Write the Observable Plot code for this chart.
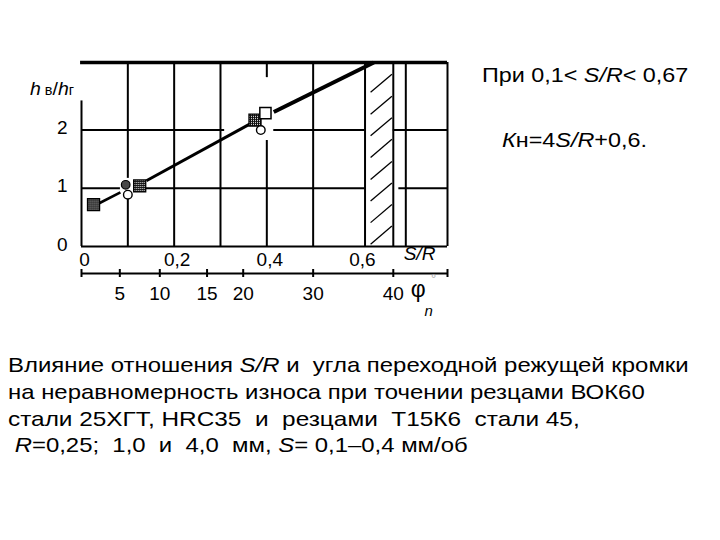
<!DOCTYPE html>
<html>
<head>
<meta charset="utf-8">
<script src="https://cdn.jsdelivr.net/npm/d3@7"></script>
<script src="https://cdn.jsdelivr.net/npm/@observablehq/plot@0.6"></script>
<style>
  html, body { margin: 0; padding: 0; background: #fff; }
  #wrap { position: relative; width: 720px; height: 540px; overflow: hidden; background: #fff; }
  #chart { position: absolute; left: 0; top: 0; }
  .t { position: absolute; white-space: pre; line-height: 1; color: #000;
       font-family: "Liberation Sans", Arial, sans-serif; transform-origin: 0 0; }
</style>
</head>
<body>
<div id="wrap"><div id="chart"></div></div>
<script>
// ---------- data ----------
const xDomain = [0, 0.79];          // S/R
const yDomain = [0, 3.16];          // hв/hг

const yTicks = [0, 1, 2];
const srTicks = [0, 0.2, 0.4, 0.6];
const srTickLabels = ["0", "0,2", "0,4", "0,6"];
const phiTickPos = [0, 0.0827, 0.169, 0.271, 0.349, 0.5, 0.673, 0.79];
const phiTickLabels = ["", "5", "10", "15", "20", "30", "40", ""];

// grid segments (drawn with gaps as in the original)
const vGridX  = [0.1, 0.1, 0.2, 0.3, 0.4, 0.4, 0.5, 0.7];
const vGridY1 = [0, 1.17, 0, 0, 0, 2.9, 0, 0];
const vGridY2 = [0.81, 3.16, 3.16, 3.16, 1.82, 3.16, 3.16, 3.16];
const hGridY  = [1, 1, 1, 2, 2, 2];
const hGridX1 = [0, 0.138, 0.685, 0, 0.415, 0.673];
const hGridX2 = [0.084, 0.612, 0.79, 0.309, 0.612, 0.79];

// forbidden zone (hatched band)
const zoneX = [0.612, 0.673];
const hatchY = [0.04, 0.41, 0.78, 1.15, 1.53, 1.90, 2.27, 2.65];

// trend line Kн = 4S/R + 0.6, drawn in three pieces
const trendX1 = [0.035, 0.140, 0.415];
const trendY1 = [0.73, 1.13, 2.31];
const trendX2 = [0.084, 0.365, 0.631];
const trendY2 = [0.93, 2.11, 3.16];

// experimental points
const filledSqX = [0.026, 0.1256, 0.3745];
const filledSqY = [0.72, 1.04, 2.17];
const openSqX = [0.397];
const openSqY = [2.29];
const openCircX = [0.100, 0.387];
const openCircY = [0.89, 2.00];
const dotCircX = [0.0954];
const dotCircY = [1.06];

// ---------- build tables ----------
const zip = (xs, ys) => xs.map((x, i) => ({x, y: ys[i]}));
const vGrid = vGridX.map((x, i) => ({x, y1: vGridY1[i], y2: vGridY2[i]}));
const hGrid = hGridY.map((y, i) => ({y, x1: hGridX1[i], x2: hGridX2[i]}));
const trend = trendX1.map((x, i) => ({x1: x, y1: trendY1[i], x2: trendX2[i], y2: trendY2[i]}));
const hatch = hatchY.map(y => ({y}));

const defsMark = () => {
  const ns = "http://www.w3.org/2000/svg";
  const d = document.createElementNS(ns, "defs");
  d.innerHTML = '<pattern id="chk" width="2" height="2" patternUnits="userSpaceOnUse">' +
    '<rect width="2" height="2" fill="#111"/><rect x="0" y="0" width="1" height="1" fill="#eee"/></pattern>';
  return d;
};

const font = "'Liberation Sans', Arial, sans-serif";
const plot = Plot.plot({
  width: 720, height: 320,
  marginLeft: 81, marginRight: 273, marginTop: 62, marginBottom: 74,
  x: {domain: xDomain},
  y: {domain: yDomain},
  style: {fontFamily: font, fontSize: "19px", color: "black", background: "white", overflow: "visible"},
  marks: [
    defsMark,
    Plot.ruleX(vGrid, {x: "x", y1: "y1", y2: "y2", stroke: "black", strokeWidth: 2}),
    Plot.ruleY(hGrid, {y: "y", x1: "x1", x2: "x2", stroke: "black", strokeWidth: 2}),
    // frame
    Plot.ruleY([yDomain[0]], {x1: xDomain[0], x2: xDomain[1], stroke: "black", strokeWidth: 2}),
    Plot.ruleY([yDomain[1]], {x1: xDomain[0] - 0.002, x2: xDomain[1], stroke: "black", strokeWidth: 3.5}),
    Plot.ruleX([xDomain[0]], {y1: 0, y2: 2.5, stroke: "black", strokeWidth: 2}),
    Plot.ruleX([xDomain[1]], {y1: yDomain[0], y2: yDomain[1], stroke: "black", strokeWidth: 2}),
    // hatched zone
    Plot.ruleX(zoneX, {y1: yDomain[0], y2: yDomain[1], stroke: "black", strokeWidth: 2}),
    Plot.link(hatch, {x1: zoneX[0] + 0.012, x2: zoneX[1] - 0.003, y1: "y", y2: d => d.y + 0.31,
                      stroke: "black", strokeWidth: 1.3}),
    // trend line
    Plot.link(trend, {x1: "x1", y1: "y1", x2: "x2", y2: "y2", stroke: "black",
                      strokeWidth: (d, i) => [2.6, 3, 4][i]}),
    // markers
    Plot.dot(zip(filledSqX, filledSqY), {x: "x", y: "y", symbol: "square", r: 6.8,
             fill: "url(#chk)", stroke: "black", strokeWidth: 1.3}),
    Plot.dot(zip(openSqX, openSqY), {x: "x", y: "y", symbol: "square", r: 6.3,
             fill: "white", stroke: "black", strokeWidth: 1.5}),
    Plot.dot(zip(openCircX, openCircY), {x: "x", y: "y", r: 4.3,
             fill: "white", stroke: "black", strokeWidth: 1.4}),
    Plot.dot(zip(dotCircX, dotCircY), {x: "x", y: "y", r: 4.3,
             fill: "url(#chk)", stroke: "black", strokeWidth: 1.2}),
    // y axis labels
    Plot.axisY(yTicks, {anchor: "left", tickSize: 0, tickPadding: 14, dy: -2, label: null,
                        fontSize: 19, tickFormat: d => String(d)}),
    // S/R labels
    Plot.axisX(srTicks, {anchor: "bottom", tickSize: 0, tickPadding: 6, dx: 3, label: null,
                         fontSize: 19, tickFormat: d => srTickLabels[srTicks.indexOf(d)]}),
    Plot.text(["S/R"], {x: 0.7296, frameAnchor: "bottom", dy: 13, fontStyle: "italic", fontSize: 19}),
    // phi axis
    Plot.ruleY([yDomain[0]], {x1: xDomain[0], x2: xDomain[1], dy: 27, stroke: "black", strokeWidth: 2}),
    Plot.axisX(phiTickPos, {anchor: "bottom", tickSize: 8, tickPadding: 9, dy: 23, label: null,
                            strokeWidth: 2, fontSize: 19,
                            tickFormat: d => phiTickLabels[phiTickPos.indexOf(d)]}),
    Plot.text(["φ"], {x: 0.727, frameAnchor: "bottom", dy: 50, fontSize: 23}),
    Plot.text(["n"], {x: 0.7495, frameAnchor: "bottom", dy: 69, fontStyle: "italic", fontSize: 15}),
    Plot.text(["°"], {x: 0.7598, frameAnchor: "bottom", dy: 36, fontSize: 13, fill: "#aaa"})
  ]
});
document.getElementById("chart").appendChild(plot);

// ---------- texts ----------
const wrap = document.getElementById("wrap");
function place(html, left, right, baseline, fs) {
  const el = document.createElement("div");
  el.className = "t";
  el.style.fontSize = fs + "px";
  el.innerHTML = html;
  wrap.appendChild(el);
  el.style.left = left + "px";
  el.style.top = (baseline - 0.8465 * fs) + "px";
  const w = el.getBoundingClientRect().width;
  if (right != null && w > 0) el.style.transform = `scaleX(${(right - left) / w})`;
  return el;
}
place('<i>h</i><span style="font-size:14px"> в</span>/<i>h</i><span style="font-size:14px">г</span>', 30, 74, 95, 19);
place('При 0,1&lt; <i>S/R</i>&lt; 0,67', 481.7, 688, 82.3, 20);
place('<i>К</i>н=4<i>S/R</i>+0,6.', 501.7, 646.7, 146.7, 20);

const captionLines = [
  'Влияние отношения <i>S/R</i> и  угла переходной режущей кромки',
  'на неравномерность износа при точении резцами ВОК60',
  'стали 25ХГТ, HRC35  и  резцами  Т15К6  стали 45,',
  ' <i>R</i>=0,25;  1,0  и  4,0  мм, <i>S</i>= 0,1–0,4 мм/об'
];
const captionRight = [689, 645, 580, 468];
const captionBase = [371.7, 399, 425.5, 452];
captionLines.forEach((s, i) => place(s, 8.3, captionRight[i], captionBase[i], 21));
</script>
</body>
</html>
